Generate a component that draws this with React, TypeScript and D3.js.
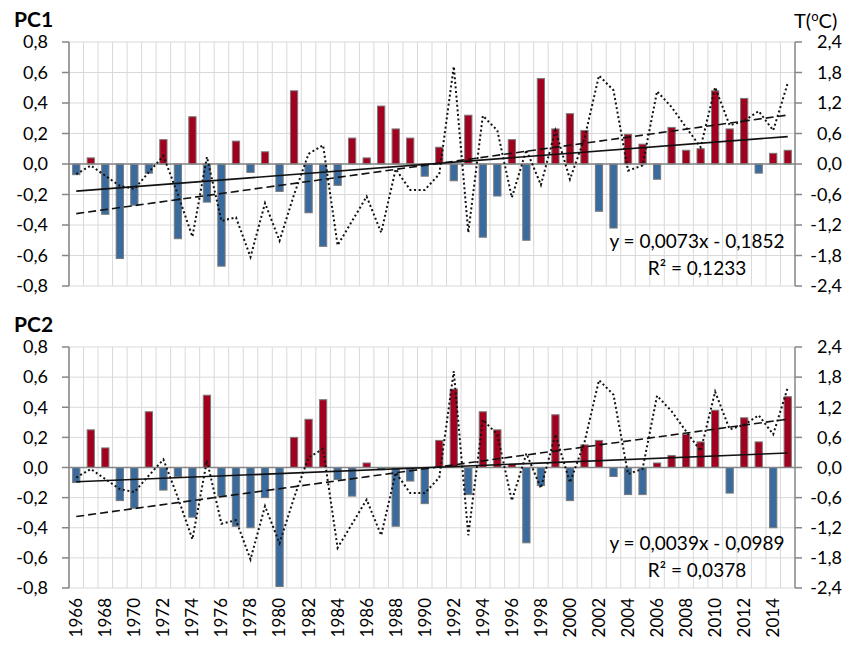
import React from "react";
import * as d3 from "d3";

// categories
const years = d3.range(1966, 2016);

// PC1 scores, 1966-2015
const pc1 = [
  -0.07, 0.04, -0.33, -0.62, -0.27, -0.06, 0.16, -0.49, 0.31, -0.25,
  -0.67, 0.15, -0.055, 0.08, -0.18, 0.48, -0.32, -0.54, -0.14, 0.17,
  0.04, 0.38, 0.23, 0.17, -0.08, 0.11, -0.11, 0.32, -0.48, -0.21,
  0.16, -0.5, 0.56, 0.23, 0.33, 0.22, -0.31, -0.42, 0.195, 0.13,
  -0.1, 0.24, 0.09, 0.1, 0.48, 0.23, 0.43, -0.06, 0.07, 0.09,
];

// PC2 scores, 1966-2015
const pc2 = [
  -0.1, 0.25, 0.13, -0.22, -0.27, 0.37, -0.15, -0.06, -0.33, 0.48,
  -0.19, -0.39, -0.4, -0.2, -0.79, 0.2, 0.32, 0.45, -0.08, -0.19,
  0.03, -0.015, -0.39, -0.09, -0.24, 0.18, 0.52, -0.18, 0.37, 0.25,
  0.02, -0.5, -0.12, 0.35, -0.22, 0.15, 0.18, -0.06, -0.18, -0.18,
  0.03, 0.08, 0.22, 0.17, 0.38, -0.17, 0.33, 0.17, -0.4, 0.47,
];

// temperature anomaly (right axis), 1966-2015
const temp = [
  -0.2, -0.03, -0.23, -0.43, -0.49, -0.16, 0.16, -0.6, -1.43, 0.14,
  -1.12, -1.05, -1.83, -0.77, -1.51, -0.6, 0.2, 0.37, -1.6, -1.12,
  -0.64, -1.35, -0.1, -0.51, -0.51, -0.2, 1.92, -1.35, 0.95, 0.66,
  -0.66, 0.28, -0.41, 0.66, -0.3, 0.5, 1.74, 1.45, -0.13, -0.03,
  1.43, 1.12, 0.72, 0.33, 1.51, 0.76, 0.85, 1.04, 0.66, 1.59,
];

const leftTicks = [0.8, 0.6, 0.4, 0.2, 0, -0.2, -0.4, -0.6, -0.8];
const rightTicks = [2.4, 1.8, 1.2, 0.6, 0, -0.6, -1.2, -1.8, -2.4];
const yearLabels = years.filter((y) => y % 2 === 0);

// Excel trend lines shown on the chart
const trendPC1 = [0.0073, -0.1852];
const trendPC2 = [0.0039, -0.0989];
const eqPC1 = ["y = 0,0073x - 0,1852", "R² = 0,1233"];
const eqPC2 = ["y = 0,0039x - 0,0989", "R² = 0,0378"];

const locale = d3.formatLocale({
  decimal: ",",
  thousands: ".",
  grouping: [3],
  currency: ["", ""],
  minus: "-",
});
const fmt = locale.format(".1f");

const FONT = "Lato, 'Open Sans', sans-serif";
const RED = "#a3001f";
const BLUE = "#3a6b9e";
const GRID = "#d9d9d9";
const AXIS = "#868686";

const x = d3
  .scaleBand<number>()
  .domain(years)
  .range([69, 795])
  .paddingInner(0.5)
  .paddingOuter(0.25);
const step = x.step();
const cx = (yr: number) => (x(yr) as number) + x.bandwidth() / 2;

// least squares for the temperature trend (dashed)
function fit(vals: number[]) {
  const xs = vals.map((_, i) => i + 1);
  const mx = d3.mean(xs) as number;
  const my = d3.mean(vals) as number;
  let num = 0;
  let den = 0;
  xs.forEach((xi, i) => {
    num += (xi - mx) * (vals[i] - my);
    den += (xi - mx) * (xi - mx);
  });
  const b = num / den;
  return [b, my - b * mx];
}
const tFit = fit(temp);

function Panel({ top, bottom, title, values, trend, eq, showX, showT }: any) {
  const y = d3.scaleLinear().domain([-0.8, 0.8]).range([bottom, top]);
  const yR = d3.scaleLinear().domain([-2.4, 2.4]).range([bottom, top]);
  const tLine = d3
    .line<number>()
    .x((_, i) => cx(years[i]))
    .y((d) => yR(d));
  const first = years[0];
  const last = years[years.length - 1];
  const n = years.length;
  const left = 69;
  const right = 795;
  const eqX = 697;

  return (
    <g>
      {/* grid */}
      {leftTicks.map((t) => (
        <line key={"h" + t} x1={left} x2={right} y1={y(t)} y2={y(t)} stroke={GRID} strokeWidth={1} />
      ))}
      {years.map((yr) => (
        <line
          key={"v" + yr}
          x1={(x(yr) as number) - step * 0.25}
          x2={(x(yr) as number) - step * 0.25}
          y1={top}
          y2={bottom}
          stroke={GRID}
          strokeWidth={1}
        />
      ))}
      {/* axes */}
      <line x1={left} x2={left} y1={top} y2={bottom} stroke={AXIS} strokeWidth={1.5} />
      <line x1={right} x2={right} y1={top} y2={bottom} stroke={AXIS} strokeWidth={1.5} />
      {leftTicks.map((t) => (
        <g key={"lt" + t}>
          <line x1={left - 7} x2={left} y1={y(t)} y2={y(t)} stroke={AXIS} strokeWidth={1.5} />
          <text x={48} y={y(t)} dy="0.35em" textAnchor="end" fontSize={18} fontFamily={FONT} fill="#000">
            {fmt(t)}
          </text>
        </g>
      ))}
      {rightTicks.map((t) => (
        <g key={"rt" + t}>
          <line x1={right} x2={right + 7} y1={yR(t)} y2={yR(t)} stroke={AXIS} strokeWidth={1.5} />
          <text x={842} y={yR(t)} dy="0.35em" textAnchor="end" fontSize={18} fontFamily={FONT} fill="#000">
            {fmt(t)}
          </text>
        </g>
      ))}
      {/* bars */}
      {values.map((v: number, i: number) => (
        <rect
          key={"b" + i}
          x={x(years[i])}
          width={x.bandwidth()}
          y={Math.min(y(v), y(0))}
          height={Math.abs(y(v) - y(0))}
          fill={v >= 0 ? RED : BLUE}
          stroke="#7a7a7a"
          strokeWidth={1}
        />
      ))}
      {/* category axis at zero */}
      <line x1={left} x2={right} y1={y(0)} y2={y(0)} stroke={AXIS} strokeWidth={1.5} />
      {/* temperature line */}
      <path d={tLine(temp) as string} fill="none" stroke="#111" strokeWidth={2} strokeDasharray="2,2.6" />
      {/* temperature trend */}
      <line
        x1={cx(first)}
        x2={cx(last)}
        y1={yR(tFit[0] * 1 + tFit[1])}
        y2={yR(tFit[0] * n + tFit[1])}
        stroke="#111"
        strokeWidth={1.6}
        strokeDasharray="8,4"
      />
      {/* PC trend */}
      <line
        x1={cx(first)}
        x2={cx(last)}
        y1={y(trend[0] * 1 + trend[1])}
        y2={y(trend[0] * n + trend[1])}
        stroke="#111"
        strokeWidth={1.6}
      />
      <text x={eqX} y={bottom - 38} textAnchor="middle" fontSize={19} fontFamily={FONT} fill="#000">
        {eq[0]}
      </text>
      <text x={eqX} y={bottom - 11} textAnchor="middle" fontSize={19} fontFamily={FONT} fill="#000">
        {eq[1]}
      </text>
      <text x={14} y={top - 15} fontSize={21} fontWeight="bold" fontFamily={FONT} fill="#000">
        {title}
      </text>
      {showT && (
        <text x={794} y={top - 14} fontSize={20} fontFamily={FONT} fill="#000">
          T(<tspan dy={-7} fontSize={13}>o</tspan>
          <tspan dy={7}>C)</tspan>
        </text>
      )}
      {showX &&
        yearLabels.map((yr) => (
          <text
            key={"x" + yr}
            transform={`translate(${cx(yr)},${bottom + 10}) rotate(-90)`}
            dy="0.35em"
            textAnchor="end"
            fontSize={17}
            fontFamily={FONT}
            fill="#000"
          >
            {yr}
          </text>
        ))}
    </g>
  );
}

export default function App() {
  return (
    <svg
      width={862}
      height={646}
      style={{ position: "absolute", left: 0, top: 0, background: "#fff" }}
    >
      <rect width={862} height={646} fill="#fff" />
      <Panel top={42} bottom={286} title="PC1" values={pc1} trend={trendPC1} eq={eqPC1} showX={false} showT={true} />
      <Panel top={347} bottom={588} title="PC2" values={pc2} trend={trendPC2} eq={eqPC2} showX={true} showT={false} />
    </svg>
  );
}
